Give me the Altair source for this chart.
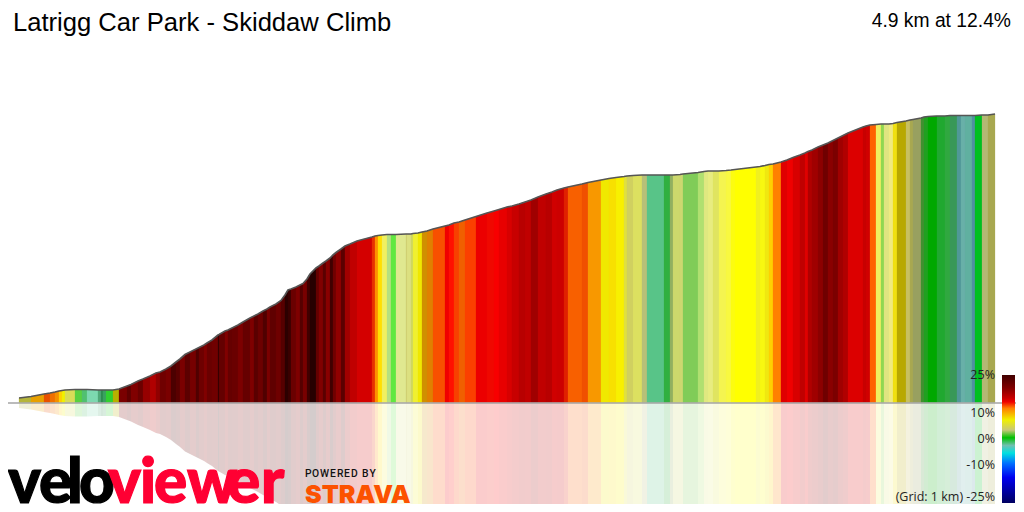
import pandas as pd
import altair as alt

# distance along the climb (m) and height above the start line (m) at each colour change
dist_m = [
    0, 60, 125, 155, 180, 200, 215, 230, 280, 315, 340, 395, 410, 420, 435, 470, 500,
    540, 560, 595, 620, 655, 685, 705, 735, 760, 785, 805,
    830, 855, 885, 900, 925, 940, 965, 995, 1000, 1030, 1045, 1065, 1095, 1120, 1155, 1175, 1195, 1220, 1240, 1255, 1285,
    1310, 1330, 1345, 1360, 1385, 1405, 1420, 1440, 1455, 1485, 1500, 1520, 1535, 1555, 1570, 1585, 1610, 1630,
    1655, 1690, 1765, 1780, 1795, 1815, 1840, 1860, 1885, 1935, 1940, 1960, 1970, 1995, 2015, 2040, 2070,
    2130, 2150, 2175, 2200, 2230, 2285, 2340, 2375, 2400, 2440, 2465, 2500, 2530, 2560, 2595, 2635, 2665, 2690,
    2725, 2745, 2815, 2845, 2910, 2950, 2985, 3025, 3040, 3070, 3115, 3140, 3225, 3255, 3270, 3305,
    3320, 3395, 3425, 3445, 3470, 3500, 3535, 3560, 3580, 3685, 3705, 3730, 3750, 3770, 3810,
    3840, 3870, 3905, 3930, 3945, 3965, 3995, 4020, 4045, 4070, 4095, 4120, 4145, 4220, 4235, 4255,
    4285, 4310, 4325, 4350, 4370, 4390, 4435, 4455, 4470, 4510, 4525, 4545, 4590, 4630, 4655, 4690,
    4710, 4730, 4765, 4780, 4815, 4845, 4880,
]
elev_m = [
    10, 13, 18, 20, 22, 24, 25, 26, 27, 27, 27, 26, 26, 26, 26, 26, 28,
    34, 37, 44, 48, 54, 60, 62, 68, 74, 82, 88,
    97, 102, 108, 111, 116, 120, 126, 136, 137, 144, 146, 150, 156, 162, 170, 174, 178, 184, 188, 192, 198,
    205, 216, 226, 228, 232, 236, 239, 248, 258, 270, 274, 280, 284, 290, 296, 301, 308, 314,
    318, 324, 332, 334, 335, 336, 337, 337, 337, 338, 338, 338, 339, 340, 342, 344, 348,
    354, 356, 360, 362, 366, 373, 380, 384, 387, 392, 394, 398, 402, 406, 412, 418, 422, 426,
    430, 432, 438, 441, 446, 449, 451, 453, 454, 455, 456, 456, 456, 456, 456, 457,
    458, 461, 463, 464, 464, 464, 465, 466, 467, 472, 473, 475, 477, 478, 482,
    486, 491, 496, 500, 503, 506, 512, 516, 520, 525, 530, 535, 540, 552, 554, 556,
    557, 558, 558, 558, 559, 561, 564, 566, 567, 570, 572, 573, 574, 574, 575, 575,
    575, 575, 575, 575, 576, 576, 578,
]
# gradient colour of each stretch between two neighbouring distances
seg_colors = [
    "#b5b53a", "#e8a000", "#e85000", "#f07000", "#f49000", "#ffd000", "#f0f000", "#d8dc58", "#58d040", "#50c070",
    "#7dd8b0", "#50a878", "#2e8b50", "#3aa060", "#30d030", "#b8b000",
    "#7a0000", "#600000", "#800000", "#6c0000", "#960000", "#b00000", "#900000", "#700000", "#7a0000", "#4c0000", "#5a0000",
    "#7a0000", "#5c0000", "#760000", "#500000", "#6e0000", "#800000", "#6a0000", "#700000", "#300000", "#640000", "#800000",
    "#660000", "#6a0000", "#7c0000", "#660000", "#7e0000", "#5a0000", "#6c0000", "#500000", "#7a0000", "#600000", "#6e0000",
    "#560000", "#2c0000", "#3a0000", "#6a0000", "#7e0000", "#560000", "#780000", "#400000", "#260000", "#640000", "#800000",
    "#5a0000", "#880000", "#400000", "#700000", "#900000", "#5a0000",
    "#a00000", "#c00000", "#d40000", "#e83000", "#ff9000", "#ffe000", "#f0f060", "#b4e080", "#60e840", "#e0e890", "#d0d070",
    "#dce080", "#d0d860", "#f0f030", "#f0e800", "#d09000", "#e08000",
    "#f85000", "#f00000", "#ff1000", "#f84000", "#f06000", "#fb4000", "#ec0000", "#f00800", "#f80000", "#e80000", "#d80000",
    "#c80000", "#b80000", "#c00000", "#a00000", "#c00000", "#b80000", "#d00000",
    "#cc0000", "#e02000", "#f86000", "#f05000", "#f89800", "#f0e800", "#f8e000", "#f8f000", "#e0e040", "#d0d060", "#dce060",
    "#b8c078", "#58c488", "#30b040", "#90b060", "#ccd86c",
    "#ccd870", "#80cc58", "#b0e070", "#e0e880", "#e8ec80", "#e0e460", "#f4f450", "#f8f840", "#fcfc10", "#ffff00", "#f0f020",
    "#f8f810", "#f0e810", "#ffd000", "#ff8000",
    "#e00000", "#f00000", "#d80000", "#c00000", "#e00000", "#b00000", "#a00000", "#8c0000", "#700000", "#8a0000", "#7c0000",
    "#a00000", "#b00000", "#dc0000", "#c80000", "#d00000",
    "#ff6000", "#eeee60", "#90d850", "#e0e480", "#f0ea80", "#f0e010", "#b8a800", "#c8c060", "#a8a850", "#98a060", "#409030",
    "#20a020", "#00a800", "#20a830", "#30a840", "#389858",
    "#509898", "#68b0a8", "#60b0a0", "#5090a0", "#00c020", "#b4b874", "#a8a850",
]

# legend of the gradient colours
legend_grades = [25, 20, 16, 14.5, 12, 7.5, 3.5, 0.5, -2.5, -5.5, -9.5, -15, -25]
legend_colors = ["#400000", "#800000", "#c80000", "#f00000", "#ff8000", "#f0f000", "#c8c878", "#00c000",
                 "#70c0b0", "#00e0e0", "#0070ff", "#0000f0", "#000060"]
tick_grades = [25, 10, 0, -10]
tick_labels = ["25%", "10%", "0%", "-10%"]

# wordmarks, set letter by letter because they are tightly spaced
velo_letters = ["v", "e", "l", "o"]
velo_x = [0, 31, 59, 71]
viewer_letters = ["v", "i", "e", "w", "e", "r"]
viewer_x = [100, 132, 146, 179, 219, 253]
powered_letters = ["P", "O", "W", "E", "R", "E", "D", "B", "Y"]
powered_x = [297, 304, 312, 322, 329, 336, 343, 354, 361.5]

rows = []
for i, c in enumerate(seg_colors):
    rows.append({"seg": i, "dist": dist_m[i], "elev": elev_m[i], "mirror": -elev_m[i], "color": c})
    rows.append({"seg": i, "dist": dist_m[i + 1], "elev": elev_m[i + 1], "mirror": -elev_m[i + 1], "color": c})
segs = pd.DataFrame(rows)
profile = pd.DataFrame({"dist": dist_m, "elev": elev_m})

x_scale = alt.Scale(domain=[0, 4880], range=[11, 987])
y_scale = alt.Scale(domain=[-202, 790], range=[496, 0])
grade_scale = alt.Scale(domain=[-25, 25], range=[495, 367])

bars = alt.Chart(segs).mark_area(interpolate="linear", strokeWidth=0.25).encode(
    x=alt.X("dist:Q", scale=x_scale, axis=None),
    y=alt.Y("elev:Q", scale=y_scale, axis=None, stack=None),
    color=alt.Color("color:N", scale=None),
    stroke=alt.Stroke("color:N", scale=None),
    detail="seg:N",
)
mirror = alt.Chart(segs).mark_area(interpolate="linear", opacity=0.2, clip=True).encode(
    x=alt.X("dist:Q", scale=x_scale, axis=None),
    y=alt.Y("mirror:Q", scale=y_scale, axis=None, stack=None),
    color=alt.Color("color:N", scale=None),
    detail="seg:N",
)
outline = alt.Chart(profile).mark_line(color="#555555", strokeWidth=1.7).encode(
    x=alt.X("dist:Q", scale=x_scale, axis=None),
    y=alt.Y("elev:Q", scale=y_scale, axis=None),
)
baseline = alt.Chart(pd.DataFrame({"elev": [0]})).mark_rule(color="#aaaaaa", strokeWidth=2, opacity=0.8).encode(
    x=alt.value(0), x2=alt.value(1008),
    y=alt.Y("elev:Q", scale=y_scale, axis=None),
)

stops = [alt.GradientStop(color=c, offset=(25 - g) / 50) for g, c in zip(legend_grades, legend_colors)]
legend_bar = alt.Chart(pd.DataFrame({"top": [25], "bottom": [-25]})).mark_rect(
    color=alt.LinearGradient(gradient="linear", stops=stops, x1=0, x2=0, y1=0, y2=1)
).encode(
    x=alt.value(994), x2=alt.value(1007),
    y=alt.Y("top:Q", scale=grade_scale, axis=None),
    y2="bottom:Q",
)
legend_text = alt.Chart(pd.DataFrame({"grade": tick_grades, "label": tick_labels})).mark_text(
    align="right", baseline="middle", font="Open Sans", fontSize=12.5, color="#222222"
).encode(
    x=alt.value(987),
    y=alt.Y("grade:Q", scale=grade_scale, axis=None),
    text="label:N",
)


def label(text, x, y, **style):
    return alt.Chart(pd.DataFrame({"t": [text]})).mark_text(baseline="alphabetic", **style).encode(
        x=alt.value(x), y=alt.value(y), text="t:N"
    )


def letters(chars, xs, y, **style):
    return alt.Chart(pd.DataFrame({"t": chars, "x": xs})).mark_text(
        baseline="alphabetic", align="left", **style
    ).encode(
        x=alt.X("x:Q", scale=None, axis=None), y=alt.value(y), text="t:N", detail="x:Q"
    )


chart = alt.layer(
    bars,
    mirror,
    outline,
    baseline,
    legend_bar,
    legend_text,
    label("(Grid: 1 km) -25%", 987, 493, align="right", font="Open Sans", fontSize=12.5, color="#222222"),
    label("Latrigg Car Park - Skiddaw Climb", 5, 23, align="left", font="Liberation Sans", fontSize=25.6, color="#000000"),
    label("4.9 km at 12.4%", 1003, 19, align="right", font="Liberation Sans", fontSize=19.3, color="#000000"),
    letters(velo_letters, velo_x, 495, font="Lato", fontWeight=900, fontSize=62, color="#000000", stroke="#000000", strokeWidth=1.2),
    letters(viewer_letters, viewer_x, 495, font="Lato", fontWeight=900, fontSize=62, color="#ff0033", stroke="#ff0033", strokeWidth=1.2),
    letters(powered_letters, powered_x, 469, font="Roboto", fontWeight=500, fontSize=10.3, color="#111111"),
    label("STRAVA", 297, 495, align="left", font="Inter", fontWeight=900, fontSize=25, color="#fc5200"),
).resolve_scale(y="independent", x="independent", color="independent", stroke="independent").properties(
    width=1008, height=496, padding=0, autosize=alt.AutoSizeParams(type="none"), background="white"
).configure_view(stroke=None)

chart.save("out.html", embed_options={"renderer": "svg", "actions": False})
